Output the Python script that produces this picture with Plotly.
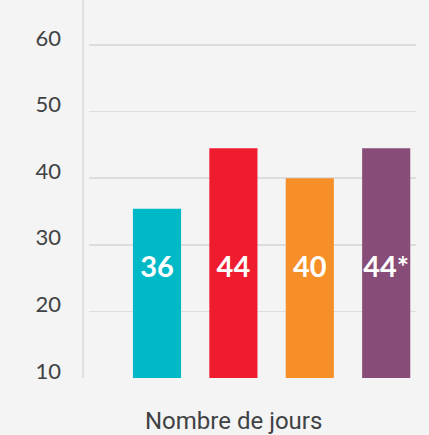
import plotly.graph_objects as go

categories = ["A", "B", "C", "D"]
values = [35.4, 44.5, 40.0, 44.5]
labels = ["36", "44", "40", "44*"]
colors = ["#00b9c6", "#ef1c30", "#f68f28", "#874c78"]
tick_vals = [10, 20, 30, 40, 50, 60]
LABEL_Y = 26.2

fig = go.Figure()
fig.add_trace(go.Bar(
    x=[0, 1, 2, 3], y=values, base=0,
    marker=dict(color=colors, line=dict(width=0)),
    width=0.63, hoverinfo="skip", showlegend=False,
))
fig.add_trace(go.Scatter(
    x=[0, 1, 2, 3], y=[LABEL_Y] * 4, mode="text", text=labels,
    textfont=dict(family="Lato", size=29, color="white", weight="bold"),
    textposition="middle center", showlegend=False, hoverinfo="skip",
))

fig.update_layout(
    width=429, height=435,
    margin=dict(l=89, r=13, t=5, b=57, autoexpand=False),
    paper_bgcolor="#f3f4f3", plot_bgcolor="#f3f4f3",
    xaxis=dict(range=[-0.89, 3.39], showticklabels=False, showgrid=False,
               zeroline=False, showline=False, fixedrange=True, automargin=False),
    yaxis=dict(range=[10, 66], tickvals=tick_vals, showgrid=True,
               gridcolor="#dcdddc", gridwidth=1.5, zeroline=False, showline=False,
               tickfont=dict(family="Lato", size=22, color="#3f4244"),
               ticklabelstandoff=27, ticklabelshift=-7, automargin=False),
    font=dict(family="Lato"),
    shapes=[dict(type="line", xref="paper", yref="paper",
                 x0=-0.018, x1=-0.018, y0=0, y1=1.02,
                 line=dict(color="#d8d9d8", width=1.5))],
    annotations=[dict(text="Nombre de jours", xref="paper", yref="paper",
                      x=(233 - 89) / 327, y=-0.115, xanchor="center", yanchor="middle",
                      showarrow=False,
                      font=dict(family="Roboto", size=24, color="#3f4244"))],
)

fig.write_html(
    "out.html",
    config={"displayModeBar": False, "staticPlot": True},
    post_script="document.body.style.margin='0';document.body.style.background='#f3f4f3';",
)
